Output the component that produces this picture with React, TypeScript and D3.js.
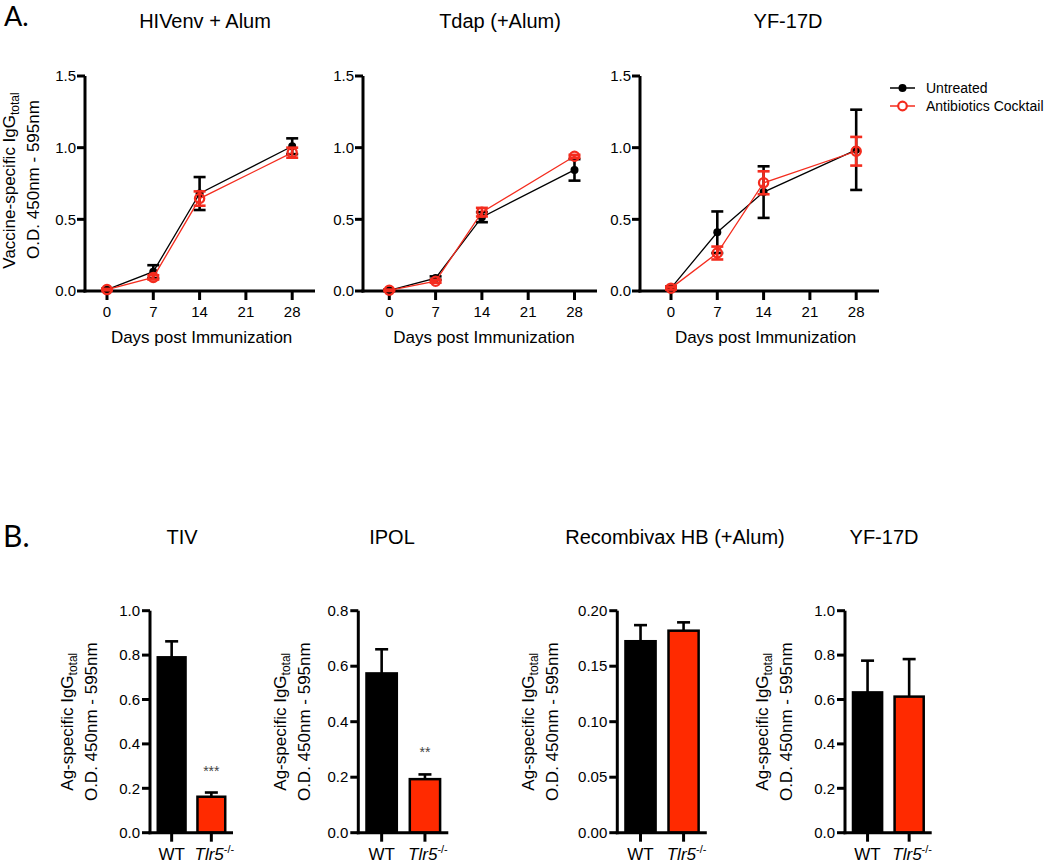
import React from "react";
import * as d3 from "d3";

// ---------- Data: panel A (time course) ----------
const sampleDays = [0, 7, 14, 28];
const dayTicks = [0, 7, 14, 21, 28];
const lineYTicks = [0, 0.5, 1.0, 1.5];
const lineTitles = ["HIVenv + Alum", "Tdap (+Alum)", "YF-17D"];
const seriesNames = ["Untreated", "Antibiotics Cocktail"];

const untreatedMean = [
  [0.01, 0.135, 0.68, 1.01],
  [0.005, 0.09, 0.515, 0.845],
  [0.02, 0.41, 0.69, 0.985],
];
const untreatedSem = [
  [0.005, 0.045, 0.115, 0.055],
  [0.005, 0.012, 0.035, 0.075],
  [0.01, 0.145, 0.18, 0.28],
];
const antibioticsMean = [
  [0.01, 0.095, 0.645, 0.965],
  [0.005, 0.068, 0.55, 0.94],
  [0.02, 0.265, 0.755, 0.975],
];
const antibioticsSem = [
  [0.005, 0.015, 0.05, 0.035],
  [0.005, 0.01, 0.03, 0.01],
  [0.01, 0.045, 0.08, 0.1],
];

// ---------- Data: panel B (bars) ----------
const barTitles = ["TIV", "IPOL", "Recombivax HB (+Alum)", "YF-17D"];
const groups = ["WT", "Tlr5"];
const wtMean = [0.79, 0.574, 0.1725, 0.632];
const wtSem = [0.072, 0.087, 0.0145, 0.143];
const koMean = [0.162, 0.193, 0.182, 0.613];
const koSem = [0.019, 0.017, 0.0075, 0.169];
const barYMax = [1.0, 0.8, 0.2, 1.0];
const barYStep = [0.2, 0.2, 0.05, 0.2];
const barTickFormat = [".1f", ".1f", ".2f", ".1f"];
const significance = ["***", "**", "", ""];

// ---------- Layout ----------
const FONT = "'Liberation Sans', Arial, Helvetica, sans-serif";
const BLACK = "#000";
const RED_LINE = "#f42c1e";
const RED_BAR = "#ff2a00";

const lineLayout = [
  { axisX: 85, zeroX: 107, axisEnd: 315, titleX: 205 },
  { axisX: 363, zeroX: 389.3, axisEnd: 597, titleX: 500 },
  { axisX: 640, zeroX: 671, axisEnd: 879, titleX: 788 },
];
const A_TOP = 76;
const A_BOTTOM = 291;
const PX_PER_DAY = 6.614;

const barLayout = [
  { axisX: 150, width: 83, titleX: 182, labelX: 97 },
  { axisX: 358.3, width: 90, titleX: 392, labelX: 310 },
  { axisX: 617.3, width: 89.5, titleX: 675, labelX: 558 },
  { axisX: 845, width: 86.7, titleX: 884, labelX: 792 },
];
const B_TOP = 610.7;
const B_BOTTOM = 832.7;

function ErrorBar({ x, y1, y2, color, cap }: any) {
  return (
    <g stroke={color} strokeWidth={2.6} fill="none">
      <line x1={x} x2={x} y1={y1} y2={y2} />
      <line x1={x - cap / 2} x2={x + cap / 2} y1={y1} y2={y1} />
      <line x1={x - cap / 2} x2={x + cap / 2} y1={y2} y2={y2} />
    </g>
  );
}

function LinePanel({ i }: { i: number }) {
  const L = lineLayout[i];
  const x = d3.scaleLinear().domain([0, 28]).range([L.zeroX, L.zeroX + 28 * PX_PER_DAY]);
  const y = d3.scaleLinear().domain([0, 1.5]).range([A_BOTTOM, A_TOP]);
  const line = d3
    .line<number>()
    .x((_, j) => x(sampleDays[j]))
    .y((d) => y(d));
  const fmt = d3.format(".1f");
  const series = [
    { mean: untreatedMean[i], sem: untreatedSem[i], color: BLACK, open: false },
    { mean: antibioticsMean[i], sem: antibioticsSem[i], color: RED_LINE, open: true },
  ];
  return (
    <g>
      <text x={L.titleX} y={28} textAnchor="middle" fontSize={20} fontFamily={FONT}>
        {lineTitles[i]}
      </text>
      <line x1={L.axisX} x2={L.axisX} y1={A_TOP} y2={A_BOTTOM + 1.5} stroke={BLACK} strokeWidth={3} />
      <line x1={L.axisX - 1.5} x2={L.axisEnd} y1={A_BOTTOM} y2={A_BOTTOM} stroke={BLACK} strokeWidth={3} />
      {lineYTicks.map((t) => (
        <g key={"y" + t}>
          <line x1={L.axisX - 8} x2={L.axisX} y1={y(t)} y2={y(t)} stroke={BLACK} strokeWidth={3} />
          <text x={L.axisX - 9} y={y(t)} dy="0.35em" textAnchor="end" fontSize={15} fontFamily={FONT}>
            {fmt(t)}
          </text>
        </g>
      ))}
      {dayTicks.map((t) => (
        <g key={"x" + t}>
          <line x1={x(t)} x2={x(t)} y1={A_BOTTOM} y2={A_BOTTOM + 9} stroke={BLACK} strokeWidth={3} />
          <text x={x(t)} y={A_BOTTOM + 26} textAnchor="middle" fontSize={15} fontFamily={FONT}>
            {t}
          </text>
        </g>
      ))}
      <text
        x={(L.zeroX + x(28)) / 2 + 2}
        y={343}
        textAnchor="middle"
        fontSize={17}
        fontFamily={FONT}
      >
        Days post Immunization
      </text>
      {series.map((s, k) => (
        <g key={"s" + k}>
          <path d={line(s.mean) || ""} fill="none" stroke={s.color} strokeWidth={1.3} />
          {s.mean.map((m, j) => (
            <ErrorBar
              key={j}
              x={x(sampleDays[j])}
              y1={y(m + s.sem[j])}
              y2={y(Math.max(0, m - s.sem[j]))}
              color={s.color}
              cap={12}
            />
          ))}
          {s.mean.map((m, j) =>
            s.open ? (
              <circle key={"c" + j} cx={x(sampleDays[j])} cy={y(m)} r={4.6} fill="none" stroke={s.color} strokeWidth={2.3} />
            ) : (
              <circle key={"c" + j} cx={x(sampleDays[j])} cy={y(m)} r={4} fill={s.color} />
            )
          )}
        </g>
      ))}
      {i === 0 && (
        <g fontFamily={FONT} fontSize={17}>
          <text transform={`translate(15, ${(A_TOP + A_BOTTOM) / 2 - 3}) rotate(-90)`} textAnchor="middle">
            Vaccine-specific IgG
            <tspan fontSize={12} dy={4}>
              total
            </tspan>
          </text>
          <text transform={`translate(39, ${(A_TOP + A_BOTTOM) / 2 - 4}) rotate(-90)`} textAnchor="middle">
            O.D. 450nm - 595nm
          </text>
        </g>
      )}
    </g>
  );
}

function Legend() {
  const lx1 = 890;
  const lx2 = 915;
  const ys = [88, 106];
  return (
    <g fontFamily={FONT} fontSize={14}>
      {seriesNames.map((name, k) => {
        const color = k === 0 ? BLACK : RED_LINE;
        return (
          <g key={name}>
            <line x1={lx1} x2={lx2} y1={ys[k]} y2={ys[k]} stroke={color} strokeWidth={1.5} />
            {k === 0 ? (
              <circle cx={(lx1 + lx2) / 2} cy={ys[k]} r={4} fill={color} />
            ) : (
              <circle cx={(lx1 + lx2) / 2} cy={ys[k]} r={4.3} fill="#fff" stroke={color} strokeWidth={2.2} />
            )}
            <text x={926} y={ys[k]} dy="0.35em">
              {name}
            </text>
          </g>
        );
      })}
    </g>
  );
}

function BarPanel({ i }: { i: number }) {
  const L = barLayout[i];
  const y = d3.scaleLinear().domain([0, barYMax[i]]).range([B_BOTTOM, B_TOP]);
  const x = d3
    .scaleBand<string>()
    .domain(groups)
    .range([L.axisX + 3, L.axisX + L.width - 3])
    .paddingInner(0.3)
    .paddingOuter(0.12);
  const ticks = d3.range(0, barYMax[i] + barYStep[i] / 2, barYStep[i]);
  const fmt = d3.format(barTickFormat[i]);
  const means = [wtMean[i], koMean[i]];
  const sems = [wtSem[i], koSem[i]];
  const cy = (B_TOP + B_BOTTOM) / 2;
  return (
    <g fontFamily={FONT}>
      <text x={L.titleX} y={544} textAnchor="middle" fontSize={20}>
        {barTitles[i]}
      </text>
      {groups.map((g, k) => {
        const bx = x(g) as number;
        const bw = x.bandwidth();
        const top = y(means[k]);
        const et = y(means[k] + sems[k]);
        return (
          <g key={g}>
            <line x1={bx + bw / 2} x2={bx + bw / 2} y1={top} y2={et} stroke={BLACK} strokeWidth={2.6} />
            <line x1={bx + bw / 2 - 6.5} x2={bx + bw / 2 + 6.5} y1={et} y2={et} stroke={BLACK} strokeWidth={2.6} />
            <rect
              x={bx}
              y={top}
              width={bw}
              height={B_BOTTOM - top}
              fill={k === 0 ? BLACK : RED_BAR}
              stroke={BLACK}
              strokeWidth={2.5}
            />
            {k === 1 && significance[i] && (
              <text x={bx + bw / 2} y={et - 17} textAnchor="middle" fontSize={14} fill="#444">
                {significance[i]}
              </text>
            )}
          </g>
        );
      })}
      <line x1={L.axisX} x2={L.axisX} y1={B_TOP} y2={B_BOTTOM + 1.5} stroke={BLACK} strokeWidth={3} />
      <line x1={L.axisX - 1.5} x2={L.axisX + L.width} y1={B_BOTTOM} y2={B_BOTTOM} stroke={BLACK} strokeWidth={3} />
      {ticks.map((t) => (
        <g key={"t" + t}>
          <line x1={L.axisX - 8} x2={L.axisX} y1={y(t)} y2={y(t)} stroke={BLACK} strokeWidth={3} />
          <text x={L.axisX - 10} y={y(t)} dy="0.35em" textAnchor="end" fontSize={15}>
            {fmt(t)}
          </text>
        </g>
      ))}
      {groups.map((g) => {
        const cx = (x(g) as number) + x.bandwidth() / 2;
        return (
          <g key={"x" + g}>
            <line x1={cx} x2={cx} y1={B_BOTTOM} y2={B_BOTTOM + 9} stroke={BLACK} strokeWidth={3} />
            {g === "WT" ? (
              <text x={cx} y={860} textAnchor="middle" fontSize={17}>
                WT
              </text>
            ) : (
              <text x={cx + 3} y={860} textAnchor="middle" fontSize={17}>
                <tspan fontStyle="italic">Tlr5</tspan>
                <tspan fontSize={11} dy={-7}>
                  -/-
                </tspan>
              </text>
            )}
          </g>
        );
      })}
      <g fontSize={17}>
        <text transform={`translate(${L.labelX - 24}, ${cy}) rotate(-90)`} textAnchor="middle">
          Ag-specific IgG
          <tspan fontSize={12} dy={4}>
            total
          </tspan>
        </text>
        <text transform={`translate(${L.labelX}, ${cy}) rotate(-90)`} textAnchor="middle">
          O.D. 450nm - 595nm
        </text>
      </g>
    </g>
  );
}

export default function App() {
  return (
    <svg
      width={1050}
      height={865}
      style={{ position: "absolute", left: 0, top: 0, background: "#fff" }}
    >
      <rect width={1050} height={865} fill="#fff" />
      <text x={4} y={26} fontSize={27} fontFamily="Lato, 'Open Sans', sans-serif">
        A.
      </text>
      <text x={3} y={547} fontSize={30} fontFamily="Lato, 'Open Sans', sans-serif">
        B.
      </text>
      {lineTitles.map((_, i) => (
        <LinePanel key={i} i={i} />
      ))}
      <Legend />
      {barTitles.map((_, i) => (
        <BarPanel key={i} i={i} />
      ))}
    </svg>
  );
}
